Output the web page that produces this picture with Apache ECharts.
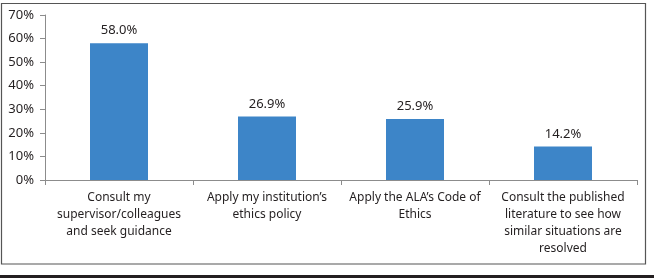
<!DOCTYPE html>
<html>
<head>
<meta charset="utf-8">
<script src="https://cdn.jsdelivr.net/npm/echarts@6/dist/echarts.min.js"></script>
<style>
  html, body { margin: 0; padding: 0; background: #fff; }
  #chart { width: 654px; height: 278px; }
</style>
</head>
<body>
<div id="chart"></div>
<script>
// categories and values (percent)
const categories = [
  'Consult my\nsupervisor/colleagues\nand seek guidance',
  'Apply my institution\u2019s\nethics policy',
  'Apply the ALA\u2019s Code of\nEthics',
  'Consult the published\nliterature to see how\nsimilar situations are\nresolved'
];
const values = [58.0, 26.9, 25.9, 14.2];

const font = '"Noto Sans", sans-serif';
const textColor = '#231f20';

const chart = echarts.init(document.getElementById('chart'));
chart.setOption({
  animation: false,
  grid: { left: 45, right: 17, top: 15, bottom: 98 },
  graphic: [
    {
      type: 'rect',
      shape: { x: 1.5, y: 3.5, width: 644, height: 260.5 },
      style: { fill: 'none', stroke: '#555', lineWidth: 1.2 },
      z: -1
    },
    {
      type: 'rect',
      shape: { x: 0, y: 275, width: 654, height: 3 },
      style: { fill: '#231f20' }
    }
  ],
  xAxis: {
    type: 'category',
    data: categories,
    axisLine: { lineStyle: { color: '#8c8c8c' } },
    axisTick: { show: true, length: 5, lineStyle: { color: '#8c8c8c' } },
    axisLabel: {
      interval: 0,
      margin: 9,
      color: textColor,
      fontFamily: font,
      fontSize: 12,
      lineHeight: 17
    }
  },
  yAxis: {
    type: 'value',
    min: 0,
    max: 70,
    interval: 10,
    splitLine: { show: false },
    axisLine: { show: true, lineStyle: { color: '#8c8c8c' } },
    axisTick: { show: true, length: 5, lineStyle: { color: '#8c8c8c' } },
    axisLabel: {
      formatter: '{value}%',
      margin: 11,
      color: textColor,
      fontFamily: font,
      fontSize: 13
    }
  },
  series: [{
    type: 'bar',
    data: values,
    barWidth: 58,
    itemStyle: { color: '#3d85c8' },
    label: {
      show: true,
      position: 'top',
      distance: 6,
      formatter: p => p.value.toFixed(1) + '%',
      color: textColor,
      fontFamily: font,
      fontSize: 13
    }
  }]
});
</script>
</body>
</html>
